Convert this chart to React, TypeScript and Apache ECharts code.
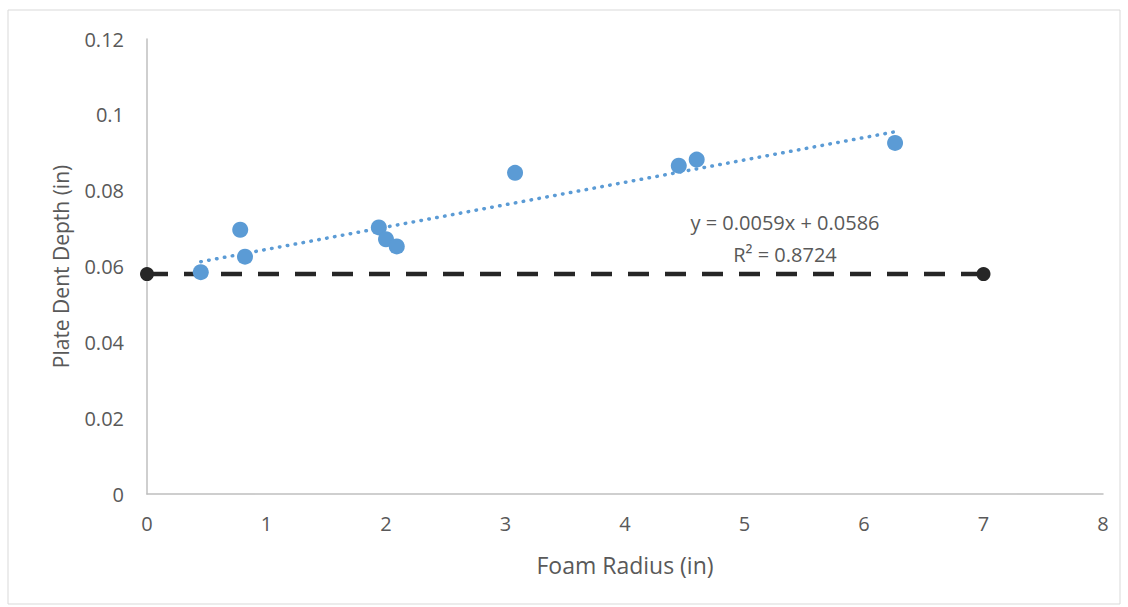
import React, { useEffect, useRef } from "react";
import * as echarts from "echarts";

// Measured dent depth against foam radius
const foamRadius = [0.45, 0.78, 0.82, 1.94, 2.0, 2.09, 3.08, 4.45, 4.6, 6.26];
const dentDepth = [0.0585, 0.0697, 0.0626, 0.0703, 0.0672, 0.0653, 0.0847, 0.0866, 0.0882, 0.0926];

// Linear fit: y = slope * x + intercept
const slope = 0.0059;
const intercept = 0.0586;
const rSquared = 0.8724;

// Bare-plate reference depth
const baselineX = [0, 7];
const baselineY = 0.058;

const xTicks = [0, 1, 2, 3, 4, 5, 6, 7, 8];
const yTicks = [0, 0.02, 0.04, 0.06, 0.08, 0.1, 0.12];

const FONT = "'Open Sans', 'Noto Sans', sans-serif";
const BLUE = "#5B9BD5";
const TEXT = "#595959";

export default function App() {
  const ref = useRef<HTMLDivElement>(null);

  useEffect(() => {
    if (!ref.current) return;
    const chart = echarts.init(ref.current, undefined, { renderer: "svg" });

    const xMin = Math.min(...foamRadius);
    const xMax = Math.max(...foamRadius);
    const fit = [
      [xMin, slope * xMin + intercept],
      [xMax, slope * xMax + intercept],
    ];

    chart.setOption({
      animation: false,
      backgroundColor: "#ffffff",
      textStyle: { fontFamily: FONT },
      graphic: [
        {
          type: "rect",
          shape: { x: 8, y: 10, width: 1112, height: 594 },
          style: { fill: "none", stroke: "#D9D9D9", lineWidth: 1 },
          silent: true,
        },
        {
          type: "text",
          x: 785,
          y: 222,
          style: {
            text: `y = ${slope}x + ${intercept}`,
            fill: TEXT,
            font: `20px ${FONT}`,
            align: "center",
            verticalAlign: "middle",
          },
        },
        {
          type: "text",
          x: 785,
          y: 254,
          style: {
            text: `R² = ${rSquared}`,
            fill: TEXT,
            font: `20px ${FONT}`,
            align: "center",
            verticalAlign: "middle",
          },
        },
      ],
      grid: { left: 147, right: 25, top: 39, bottom: 113 },
      xAxis: {
        type: "value",
        min: xTicks[0],
        max: xTicks[xTicks.length - 1],
        interval: 1,
        name: "Foam Radius (in)",
        nameLocation: "middle",
        nameGap: 59,
        nameTextStyle: { color: TEXT, fontSize: 23, fontFamily: FONT },
        axisLine: { show: true, lineStyle: { color: "#BFBFBF", width: 1.5 } },
        axisTick: { show: false },
        splitLine: { show: false },
        axisLabel: { color: TEXT, fontSize: 20, margin: 19, fontFamily: FONT },
      },
      yAxis: {
        type: "value",
        min: yTicks[0],
        max: yTicks[yTicks.length - 1],
        interval: 0.02,
        name: "Plate Dent Depth (in)",
        nameLocation: "middle",
        nameGap: 76,
        nameTextStyle: { color: TEXT, fontSize: 21, fontFamily: FONT },
        axisLine: { show: true, lineStyle: { color: "#BFBFBF", width: 1.5 } },
        axisTick: { show: false },
        splitLine: { show: false },
        axisLabel: {
          color: TEXT,
          fontSize: 20,
          margin: 23,
          fontFamily: FONT,
          formatter: (v: number) => String(parseFloat(v.toFixed(2))),
        },
      },
      series: [
        {
          type: "line",
          data: baselineX.map((x) => [x, baselineY]),
          symbol: "circle",
          symbolSize: 14,
          itemStyle: { color: "#262626" },
          lineStyle: { color: "#262626", width: 4.5, type: [21, 16] },
          z: 2,
        },
        {
          type: "line",
          data: fit,
          symbol: "none",
          lineStyle: { color: BLUE, width: 3.5, type: [0.5, 7.5], cap: "round" },
          z: 3,
        },
        {
          type: "scatter",
          data: foamRadius.map((x, i) => [x, dentDepth[i]]),
          symbol: "circle",
          symbolSize: 16,
          itemStyle: { color: BLUE, opacity: 1 },
          z: 4,
        },
      ],
    });

    return () => chart.dispose();
  }, []);

  return (
    <div
      ref={ref}
      style={{ position: "fixed", left: 0, top: 0, width: 1128, height: 607 }}
    />
  );
}
